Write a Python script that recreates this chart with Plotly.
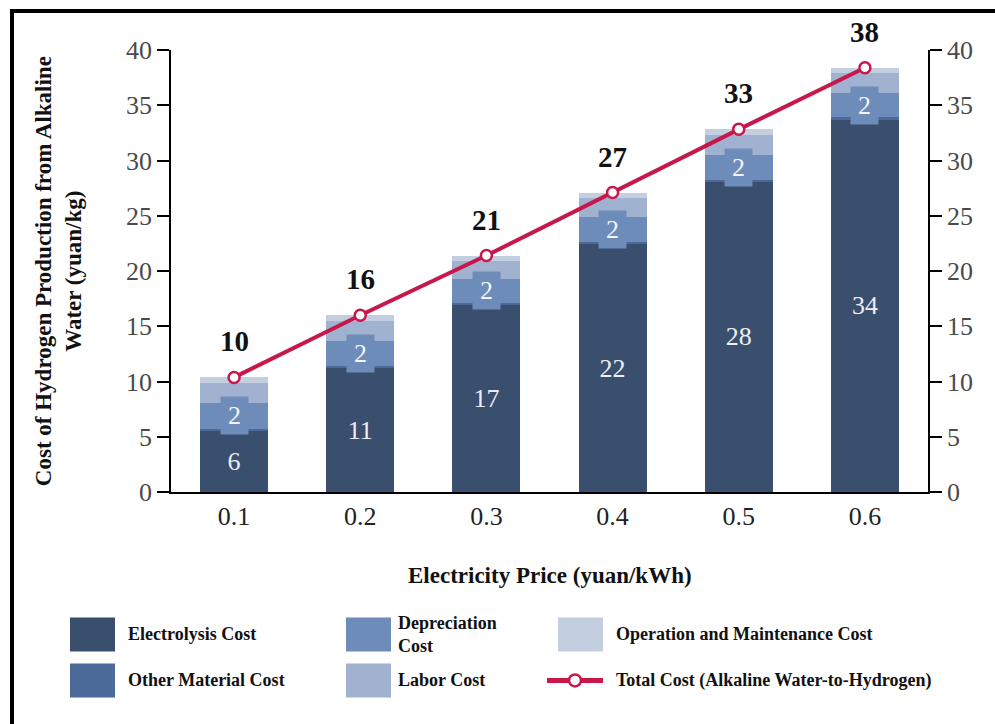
import plotly.graph_objects as go

SERIF = "Liberation Serif, Times New Roman, serif"

# Cost breakdown per electricity price (yuan/kg)
prices = ["0.1", "0.2", "0.3", "0.4", "0.5", "0.6"]
electrolysis = [5.53, 11.2, 16.9, 22.4, 28.08, 33.7]
other_material = [0.21, 0.2, 0.2, 0.2, 0.2, 0.2]
depreciation = [2.33, 2.25, 2.2, 2.25, 2.22, 2.2]
labor = [1.76, 1.8, 1.65, 1.75, 1.81, 1.8]
operation_maintenance = [0.54, 0.55, 0.45, 0.5, 0.51, 0.5]

# Total cost is the sum of the stacked components
totals = [sum(parts) for parts in zip(electrolysis, other_material, depreciation,
                                      labor, operation_maintenance)]

C_ELEC = "#3a4e6e"
C_OTHER = "#4b6a99"
C_DEP = "#6e8cb9"
C_LABOR = "#a0b2d0"
C_OM = "#c3cee1"
C_TOTAL = "#c8174a"

# plot-area geometry in pixels (used for the hand-made legend and frame)
L, R, T, B = 171, 928, 50, 491.7


def px_x(px):
    return (px - L) / (R - L)


def px_y(py):
    return (B - py) / (B - T)


fig = go.Figure()

bar_common = dict(x=prices, width=0.54, marker_line_width=0, showlegend=False,
                  hoverinfo="skip")
fig.add_trace(go.Bar(y=electrolysis, name="Electrolysis Cost",
                     marker_color=C_ELEC, text=electrolysis,
                     texttemplate="%{y:.0f}", textposition="inside",
                     insidetextanchor="middle", textangle=0,
                     textfont=dict(family=SERIF, size=26, color="#eceef5"),
                     **bar_common))
fig.add_trace(go.Bar(y=other_material, name="Other Material Cost",
                     marker_color=C_OTHER, **bar_common))
fig.add_trace(go.Bar(y=depreciation, name="Depreciation Cost",
                     marker_color=C_DEP, **bar_common))
fig.add_trace(go.Bar(y=labor, name="Labor Cost",
                     marker_color=C_LABOR, **bar_common))
fig.add_trace(go.Bar(y=operation_maintenance, name="Operation and Maintenance Cost",
                     marker_color=C_OM, **bar_common))

fig.add_trace(go.Scatter(x=prices, y=totals, yaxis="y2", mode="lines+markers",
                         name="Total Cost (Alkaline Water-to-Hydrogen)",
                         line=dict(color=C_TOTAL, width=4),
                         marker=dict(symbol="circle", size=11, color="white",
                                     line=dict(color=C_TOTAL, width=2.5)),
                         showlegend=False, hoverinfo="skip"))

annotations = []
# depreciation value labels on a tinted box (x given as category index)
for i, (e, o, d) in enumerate(zip(electrolysis, other_material, depreciation)):
    annotations.append(dict(x=i, y=e + o + d / 2, xref="x", yref="y",
                            text=str(round(d)), showarrow=False,
                            bgcolor=C_DEP, width=25, height=35,
                            font=dict(family=SERIF, size=26, color="#f4f5fa")))
# total labels above the line markers
for i, t in enumerate(totals):
    annotations.append(dict(x=i, y=t, xref="x", yref="y", yshift=36,
                            text=f"<b>{round(t)}</b>", showarrow=False,
                            font=dict(family=SERIF, size=29, color="#111111")))

# axis titles
annotations.append(dict(x=0.5, y=px_y(575), xref="paper", yref="paper",
                        text="<b>Electricity Price (yuan/kWh)</b>", showarrow=False,
                        xanchor="center", yanchor="middle",
                        font=dict(family=SERIF, size=23, color="#111111")))
annotations.append(dict(x=px_x(58), y=px_y(271), xref="paper", yref="paper",
                        text="<b>Cost of Hydrogen Production from Alkaline<br>Water (yuan/kg)</b>",
                        showarrow=False, textangle=-90, xanchor="center",
                        yanchor="middle",
                        font=dict(family=SERIF, size=23, color="#111111")))

shapes = []
# legend swatches and labels
legend_items = [
    ("Electrolysis Cost", C_ELEC, 0, 0),
    ("Depreciation<br>Cost", C_DEP, 1, 0),
    ("Operation and Maintenance Cost", C_OM, 2, 0),
    ("Other Material Cost", C_OTHER, 0, 1),
    ("Labor Cost", C_LABOR, 1, 1),
]
col_swatch_x = [70, 346, 558]
col_text_x = [126, 396, 614]
row_top = [617, 663]
for label, color, col, row in legend_items:
    x0 = col_swatch_x[col]
    y0 = row_top[row]
    shapes.append(dict(type="rect", xref="paper", yref="paper",
                       x0=px_x(x0), x1=px_x(x0 + 45),
                       y0=px_y(y0 + 34), y1=px_y(y0),
                       fillcolor=color, line_width=0))
    annotations.append(dict(x=px_x(col_text_x[col]), y=px_y(y0 + 17),
                            xref="paper", yref="paper", text=f"<b>{label}</b>",
                            showarrow=False, xanchor="left", yanchor="middle",
                            align="left",
                            font=dict(family=SERIF, size=18, color="#111111")))
# line legend entry
ly = 680
shapes.append(dict(type="line", xref="paper", yref="paper",
                   x0=px_x(547), x1=px_x(603), y0=px_y(ly), y1=px_y(ly),
                   line=dict(color=C_TOTAL, width=5)))
shapes.append(dict(type="circle", xref="paper", yref="paper",
                   x0=px_x(569), x1=px_x(581), y0=px_y(ly + 6), y1=px_y(ly - 6),
                   fillcolor="white", line=dict(color=C_TOTAL, width=2.5)))
annotations.append(dict(x=px_x(614), y=px_y(ly), xref="paper", yref="paper",
                        text="<b>Total Cost (Alkaline Water-to-Hydrogen)</b>",
                        showarrow=False, xanchor="left", yanchor="middle",
                        font=dict(family=SERIF, size=18, color="#111111")))

# page frame (top and left edges)
shapes.append(dict(type="line", xref="paper", yref="paper",
                   x0=px_x(10), x1=px_x(1000), y0=px_y(11), y1=px_y(11),
                   line=dict(color="black", width=4)))
shapes.append(dict(type="line", xref="paper", yref="paper",
                   x0=px_x(12), x1=px_x(12), y0=px_y(9), y1=px_y(730),
                   line=dict(color="black", width=4)))

yaxis_common = dict(range=[0, 40], dtick=5, showgrid=False, zeroline=False,
                    showline=True, linecolor="black", linewidth=1.5,
                    ticks="outside", ticklen=12, tickwidth=1.5, tickcolor="black",
                    tickfont=dict(family=SERIF, size=26, color="#4a4a4a"))

fig.update_layout(
    width=995, height=724,
    margin=dict(l=L, r=995 - R, t=T, b=724 - B),
    paper_bgcolor="white", plot_bgcolor="white",
    barmode="stack", bargap=0.46,
    xaxis=dict(type="category", showgrid=False, showline=True, linecolor="black",
               linewidth=1.5, ticks="",
               tickfont=dict(family=SERIF, size=26, color="#222222")),
    yaxis=dict(side="left", **yaxis_common),
    yaxis2=dict(side="right", overlaying="y", **yaxis_common),
    showlegend=False,
    annotations=annotations,
    shapes=shapes,
)

fig.write_html("out.html")
